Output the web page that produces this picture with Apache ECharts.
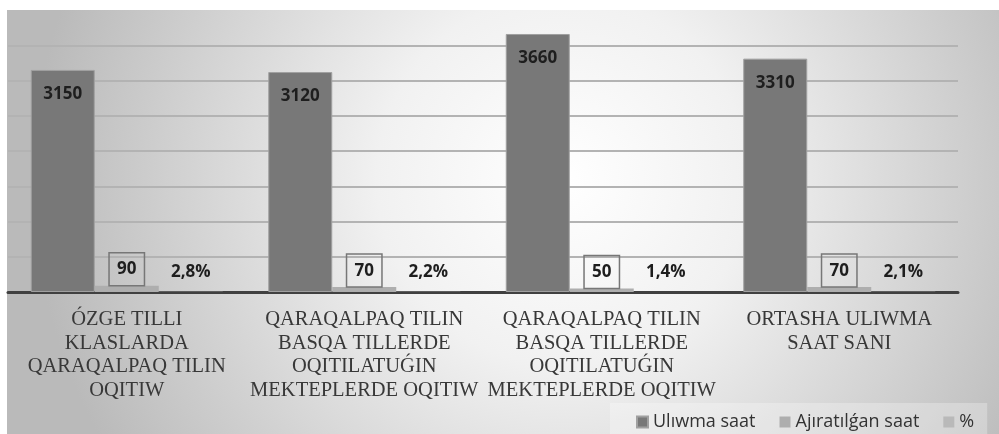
<!DOCTYPE html>
<html>
<head>
<meta charset="utf-8">
<script src="https://cdn.jsdelivr.net/npm/echarts@6/dist/echarts.min.js"></script>
<style>
html,body{margin:0;padding:0;background:#fff;}
#chart{width:999px;height:434px;}
</style>
</head>
<body>
<div id="chart"></div>
<script>
const categories = [
  "ÓZGE TILLI\nKLASLARDA\nQARAQALPAQ TILIN\nOQITIW",
  "QARAQALPAQ TILIN\nBASQA TILLERDE\nOQITILATUǴIN\nMEKTEPLERDE OQITIW",
  "QARAQALPAQ TILIN\nBASQA TILLERDE\nOQITILATUǴIN\nMEKTEPLERDE OQITIW",
  "ORTASHA ULIWMA\nSAAT SANI"
];
const seriesNames = ["Ulıwma saat", "Ajıratılǵan saat", "%"];
const totalHours = [3150, 3120, 3660, 3310];
const allocatedHours = [90, 70, 50, 70];
const percentValues = [2.8, 2.2, 1.4, 2.1];
const yMin = 0, yMax = 4000, yInterval = 500;

const chart = echarts.init(document.getElementById('chart'), null, {renderer: 'canvas'});
const gridColors = [];
for (let v = yMin; v <= yMax; v += yInterval) gridColors.push(v === yMax ? 'rgba(0,0,0,0)' : '#b3b3b3');

chart.setOption({
  animation: false,
  graphic: [{
    type: 'rect', z: -10, silent: true,
    shape: {x: 7, y: 10, width: 992, height: 424},
    style: {
      fill: {
        type: 'radial', x: 0.56, y: 0.4, r: 1.25,
        colorStops: [
          {offset: 0, color: '#ffffff'},
          {offset: 0.35, color: '#f1f1f1'},
          {offset: 1, color: '#bababa'}
        ]
      }
    }
  }],
  grid: {left: 8, right: 41, top: 10, bottom: 142, containLabel: false},
  legend: {
    left: 610, top: 403,
    padding: [8, 13, 8, 26],
    backgroundColor: 'rgba(255,255,255,0.28)',
    itemWidth: 11, itemHeight: 11, itemGap: 24,
    icon: 'rect',
    textStyle: {fontFamily: "'Open Sans', sans-serif", fontSize: 18, lineHeight: 22, color: '#333'},
    data: seriesNames
  },
  xAxis: {
    type: 'category',
    data: categories,
    axisLine: {show: true, lineStyle: {color: '#404040', width: 3}},
    axisTick: {show: false},
    axisLabel: {
      interval: 0, margin: 16,
      fontFamily: "'Liberation Serif', serif", fontSize: 20.5, lineHeight: 23.5,
      color: '#383838'
    }
  },
  yAxis: {
    type: 'value', min: yMin, max: yMax, interval: yInterval,
    axisLine: {show: false}, axisTick: {show: false}, axisLabel: {show: false},
    splitLine: {show: true, lineStyle: {color: gridColors, width: 2}}
  },
  series: [
    {
      name: seriesNames[0], type: 'bar', data: totalHours,
      barWidth: 64, barGap: '0%',
      itemStyle: {color: '#787878', borderColor: '#a0a0a0', borderWidth: 1},
      label: {
        show: true, position: 'insideTop', distance: 16,
        fontFamily: "'Open Sans', sans-serif", fontWeight: 'bold', fontSize: 17, color: '#1e1e1e'
      }
    },
    {
      name: seriesNames[1], type: 'bar', data: allocatedHours,
      barWidth: 64, barGap: '0%',
      itemStyle: {color: '#aeaeae'},
      label: {
        show: true, position: 'top', distance: 0,
        padding: [7, 8, 6, 8], lineHeight: 20,
        borderColor: '#777', borderWidth: 1.5,
        fontFamily: "'Open Sans', sans-serif", fontWeight: 'bold', fontSize: 17, color: '#1e1e1e'
      }
    },
    {
      name: seriesNames[2], type: 'bar', data: percentValues,
      barWidth: 64, barGap: '0%',
      itemStyle: {color: '#b9b9b9'},
      label: {
        show: true, position: 'top', distance: 4,
        padding: [7, 8, 6, 8], lineHeight: 20,
        formatter: p => String(p.value).replace('.', ',') + '%',
        fontFamily: "'Open Sans', sans-serif", fontWeight: 'bold', fontSize: 17, color: '#1e1e1e'
      }
    }
  ]
});
</script>
</body>
</html>
